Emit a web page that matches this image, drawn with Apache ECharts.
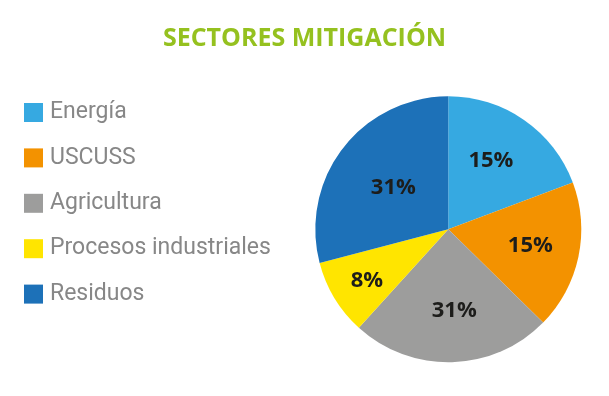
<!DOCTYPE html>
<html><head><meta charset="utf-8">
<script src="https://cdn.jsdelivr.net/npm/echarts@6/dist/echarts.min.js"></script>
<style>html,body{margin:0;padding:0;background:#fff}#c{width:609px;height:396px}</style>
</head><body><div id="c"></div>
<script>
const categories = ['Energía', 'USCUSS', 'Agricultura', 'Procesos industriales', 'Residuos'];
const values = [19.3, 18.1, 24.4, 9.2, 29.1];
const labelTexts = ['15%', '15%', '31%', '8%', '31%'];
const colors = ['#36A9E1', '#F39200', '#9D9D9C', '#FFE500', '#1D71B8'];
// label nudges (style only)
const labelNudge = [[3, -11], [14, 2], [4, 12], [-22, 15], [0, 1]];

const chart = echarts.init(document.getElementById('c'));
chart.setOption({
  animation: false,
  title: {
    text: 'SECTORES MITIGACIÓN',
    left: 'center',
    top: 26,
    padding: 0,
    textStyle: { color: '#95C11F', fontFamily: 'Open Sans', fontWeight: 'bold', fontSize: 25 }
  },
  legend: {
    orient: 'vertical',
    left: 24,
    top: 101,
    padding: 0,
    itemWidth: 19,
    itemHeight: 19,
    itemGap: 22.4,
    icon: 'rect',
    textStyle: { color: '#878787', fontFamily: 'Roboto', fontSize: 23, lineHeight: 19, padding: [0, 0, 0, 2] },
    data: categories
  },
  series: [{
    type: 'pie',
    center: [448.3, 229.3],
    radius: 133,
    startAngle: 90,
    clockwise: true,
    label: {
      position: 'inside',
      color: '#1D1D1B',
      fontFamily: 'Open Sans',
      fontWeight: 'bold',
      fontSize: 22
    },
    labelLine: { show: false },
    itemStyle: { borderWidth: 0 },
    emphasis: { disabled: true },
    data: categories.map((n, i) => ({
      name: n, value: values[i],
      itemStyle: { color: colors[i] },
      label: { formatter: labelTexts[i], offset: labelNudge[i] }
    }))
  }]
});
</script></body></html>
